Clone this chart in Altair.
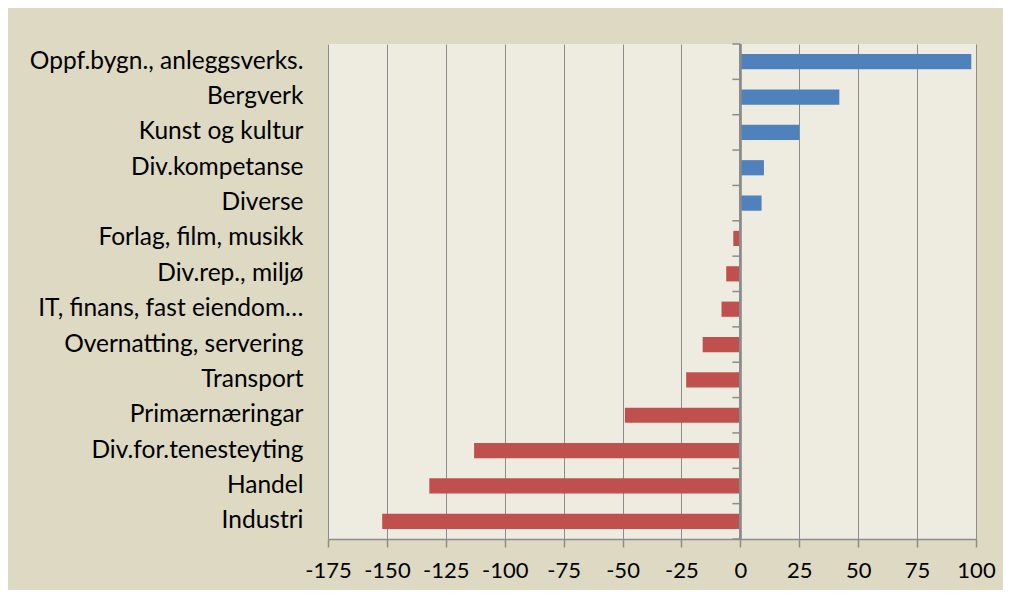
import altair as alt
import pandas as pd

categories = [
    "Oppf.bygn., anleggsverks.",
    "Bergverk",
    "Kunst og kultur",
    "Div.kompetanse",
    "Diverse",
    "Forlag, film, musikk",
    "Div.rep., miljø",
    "IT, finans, fast eiendom…",
    "Overnatting, servering",
    "Transport",
    "Primærnæringar",
    "Div.for.tenesteyting",
    "Handel",
    "Industri",
]
values = [98, 42, 25, 10, 9, -3, -6, -8, -16, -23, -49, -113, -132, -152]
x_ticks = [-175, -150, -125, -100, -75, -50, -25, 0, 25, 50, 75, 100]

df = pd.DataFrame({"cat": categories, "value": values})
last_df = pd.DataFrame({"cat": [categories[-1]]})

FONT = "Lato"
GRID = "#8C8C8C"

x_scale = alt.Scale(domain=[-175, 100], nice=False, zero=False)
y_scale = alt.Scale(domain=categories, paddingInner=0, paddingOuter=0)

bars = alt.Chart(df).mark_bar(height=alt.RelativeBandSize(0.43)).encode(
    y=alt.Y(
        "cat:N",
        sort=categories,
        scale=y_scale,
        title=None,
        axis=alt.Axis(
            orient="left",
            domain=False,
            ticks=False,
            grid=False,
            labelFont=FONT,
            labelFontSize=24.5,
            labelColor="#000000",
            labelPadding=25,
            labelLimit=400,
            minExtent=312,
            maxExtent=312,
        ),
    ),
    x=alt.X(
        "value:Q",
        scale=x_scale,
        title=None,
        axis=alt.Axis(
            values=x_ticks,
            labelExpr="datum.value + ''",
            labelOverlap=False,
            labelFlush=False,
            grid=True,
            gridColor=GRID,
            gridWidth=1,
            gridOpacity=1,
            domain=True,
            domainColor=GRID,
            domainWidth=1.5,
            tickColor=GRID,
            tickSize=8,
            tickWidth=1.5,
            labelFont=FONT,
            labelFontSize=22,
            labelColor="#000000",
            labelPadding=13,
            minExtent=45,
            maxExtent=45,
        ),
    ),
    color=alt.condition(alt.datum.value > 0, alt.value("#4F81BD"), alt.value("#C0504D")),
)

zero_line = alt.Chart(df).mark_rule(color=GRID, strokeWidth=1.5).encode(
    x=alt.datum(0, scale=x_scale),
)

cat_ticks = alt.Chart(df).mark_rule(color=GRID, strokeWidth=1.5).encode(
    y=alt.Y("cat:N", sort=categories, scale=y_scale, bandPosition=0),
    x=alt.datum(-3.4),
    x2=alt.datum(0),
)

end_tick = alt.Chart(last_df).mark_rule(color=GRID, strokeWidth=1.5).encode(
    y=alt.Y("cat:N", sort=categories, scale=y_scale, bandPosition=1),
    x=alt.datum(-3.4),
    x2=alt.datum(0),
)

chart = (
    alt.layer(bars, zero_line, cat_ticks, end_tick)
    .properties(
        width=648,
        height=495,
        background="#DDD9C3",
        padding={"left": 8, "top": 35, "right": 7, "bottom": 6},
    )
    .configure_view(fill="#EEECE1", stroke=None)
)

chart.save("out.html", embed_options={"renderer": "svg", "actions": False})
